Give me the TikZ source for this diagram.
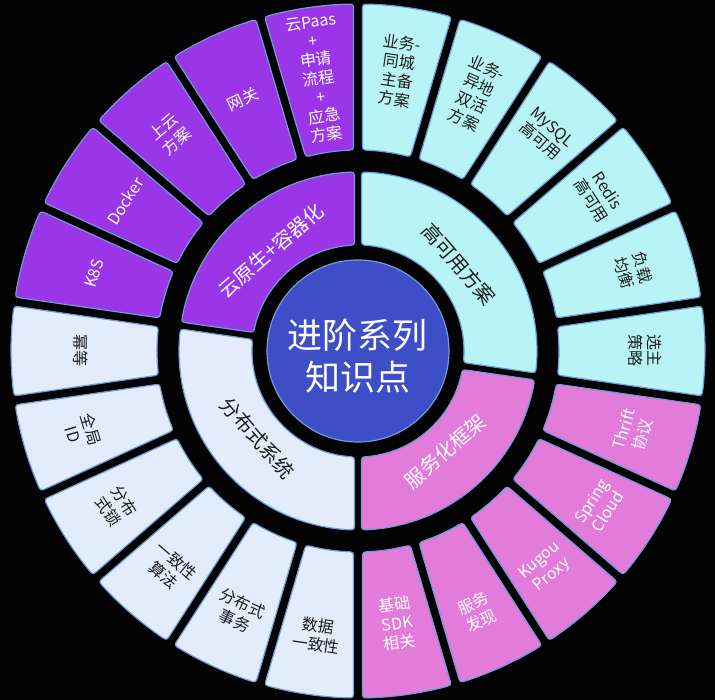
\documentclass[tikz,border=0pt]{standalone}
\usepackage{fontspec}
\setmainfont{Noto Sans CJK SC}
\usepackage{tikz}

\definecolor{bgblack}{HTML}{030303}
\definecolor{cloudpurple}{HTML}{9A36E8}
\definecolor{haaqua}{HTML}{B8F4F6}
\definecolor{rpcpink}{HTML}{E37BDA}
\definecolor{distpale}{HTML}{E2ECFA}
\definecolor{coreblue}{HTML}{3E4EC6}
\definecolor{rimblue}{HTML}{6E9CD8}
\definecolor{inkdark}{HTML}{1E1E1E}

% ring segment with rounded corners and a gap of constant width
% #1 high angle, #2 low angle, #3 inner r, #4 outer r, #5 half gap, #6 options
\newcommand{\ringseg}[6]{%
  \pgfmathsetmacro{\cLI}{#2+asin(#5/#3)}%
  \pgfmathsetmacro{\cLO}{#2+asin(#5/#4)}%
  \pgfmathsetmacro{\cHO}{#1-asin(#5/#4)}%
  \pgfmathsetmacro{\cHI}{#1-asin(#5/#3)}%
  \pgfmathsetmacro{\sLI}{#2+asin(#5/(#3+7))}%
  \pgfmathsetmacro{\sLO}{#2+asin(#5/(#4-7))}%
  \pgfmathsetmacro{\sHO}{#1-asin(#5/(#4-7))}%
  \pgfmathsetmacro{\sHI}{#1-asin(#5/(#3+7))}%
  \pgfmathsetmacro{\aLO}{\cLO+7/#4*57.2958}%
  \pgfmathsetmacro{\aHO}{\cHO-7/#4*57.2958}%
  \pgfmathsetmacro{\aHI}{\cHI-7/#3*57.2958}%
  \pgfmathsetmacro{\aLI}{\cLI+7/#3*57.2958}%
  \draw[#6] (\sLI:#3+7) -- (\sLO:#4-7) .. controls (\cLO:#4) .. (\aLO:#4)
    arc[start angle=\aLO, end angle=\aHO, radius=#4]
    .. controls (\cHO:#4) .. (\sHO:#4-7) -- (\sHI:#3+7)
    .. controls (\cHI:#3) .. (\aHI:#3)
    arc[start angle=\aHI, end angle=\aLI, radius=#3]
    .. controls (\cLI:#3) .. (\sLI:#3+7) -- cycle;}

\begin{document}
\begin{tikzpicture}[x=1pt, y=1pt,
  seg/.style={draw=rimblue, line width=1.2pt, line join=round},
  leaflabel/.style={font=\fontsize{16}{19}\selectfont, align=center, inner sep=0pt},
  grouplabel/.style={font=\fontsize{20}{24}\selectfont, inner sep=0pt},
  corelabel/.style={font=\fontsize{35}{42}\selectfont, align=center, inner sep=0pt, text=white}]
  % Canvas — black, centre of the rings at (0,0)
  \fill[bgblack] (-358,-349) rectangle (357,351);
  \useasboundingbox (-358,-349) rectangle (357,351);

  \pgfmathsetmacro{\stepang}{360/22}

  % --- Outer ring: 22 leaves, clockwise from 12 o'clock ---
  \foreach \i/\col/\txt/\tc/\rr in {
      0/haaqua/{业务-\\同城\\主备\\方案}/inkdark/283,
      1/haaqua/{业务-\\异地\\双活\\方案}/inkdark/283,
      2/haaqua/{MySQL\\高可用}/inkdark/287,
      3/haaqua/{Redis\\高可用}/inkdark/287,
      4/haaqua/{负载\\均衡}/inkdark/287,
      5/haaqua/{选主\\策略}/inkdark/287,
      6/rpcpink/{Thrift\\协议}/white/287,
      7/rpcpink/{Spring\\Cloud}/white/287,
      8/rpcpink/{Kugou\\Proxy}/white/287,
      9/rpcpink/{服务\\发现}/white/287,
      10/rpcpink/{基础\\SDK\\相关}/white/275,
      11/distpale/{数据\\一致性}/inkdark/287,
      12/distpale/{分布式\\事务}/inkdark/287,
      13/distpale/{一致性\\算法}/inkdark/287,
      14/distpale/{分布\\式锁}/inkdark/287,
      15/distpale/{全局\\ID}/inkdark/287,
      16/distpale/{幂等}/inkdark/277,
      17/cloudpurple/{K8S}/white/275,
      18/cloudpurple/{Docker}/white/277,
      19/cloudpurple/{上云\\方案}/white/287,
      20/cloudpurple/{网关}/white/277,
      21/cloudpurple/{云Paas\\+\\申请\\流程\\+\\应急\\方案}/white/275}{
    \pgfmathsetmacro{\angA}{90-\i*\stepang}
    \pgfmathsetmacro{\angB}{90-(\i+1)*\stepang}
    \ringseg{\angA}{\angB}{201}{347}{4.5}{seg, fill=\col}
    % label turned to read across the ring
    \pgfmathsetmacro{\angM}{90-(\i+0.5)*\stepang}
    \pgfmathsetmacro{\angM}{\angM < -185 ? \angM+360 : \angM}
    \pgfmathsetmacro{\rot}{\angM > -5 ? \angM-90 : \angM+90}
    \node[leaflabel, text=\tc, rotate=\rot] (leaf\i) at (\angM:\rr) {\txt};
  }

  % --- Middle ring: the four topic groups ---
  \foreach \first/\last/\col/\txt/\tc in {
      0/6/haaqua/高可用方案/inkdark,
      6/11/rpcpink/服务化框架/white,
      11/17/distpale/分布式系统/inkdark,
      17/22/cloudpurple/云原生+容器化/white}{
    \pgfmathsetmacro{\angA}{90-\first*\stepang}
    \pgfmathsetmacro{\angB}{90-\last*\stepang}
    \ringseg{\angA}{\angB}{106}{179}{3.5}{seg, fill=\col}
    \pgfmathsetmacro{\angM}{(\angA+\angB)/2}
    \pgfmathsetmacro{\angM}{\angM < -185 ? \angM+360 : \angM}
    \pgfmathsetmacro{\rot}{\angM > -5 ? \angM-90 : \angM+90}
    \node[grouplabel, text=\tc, rotate=\rot] (group\first) at (\angM:133) {\txt};
  }

  % --- Core disc ---
  \draw[draw=rimblue, fill=coreblue, line width=1.2pt] (0,0) circle[radius=91];
  \node[corelabel] (core) at (0,-5) {进阶系列\\知识点};
\end{tikzpicture}
\end{document}
